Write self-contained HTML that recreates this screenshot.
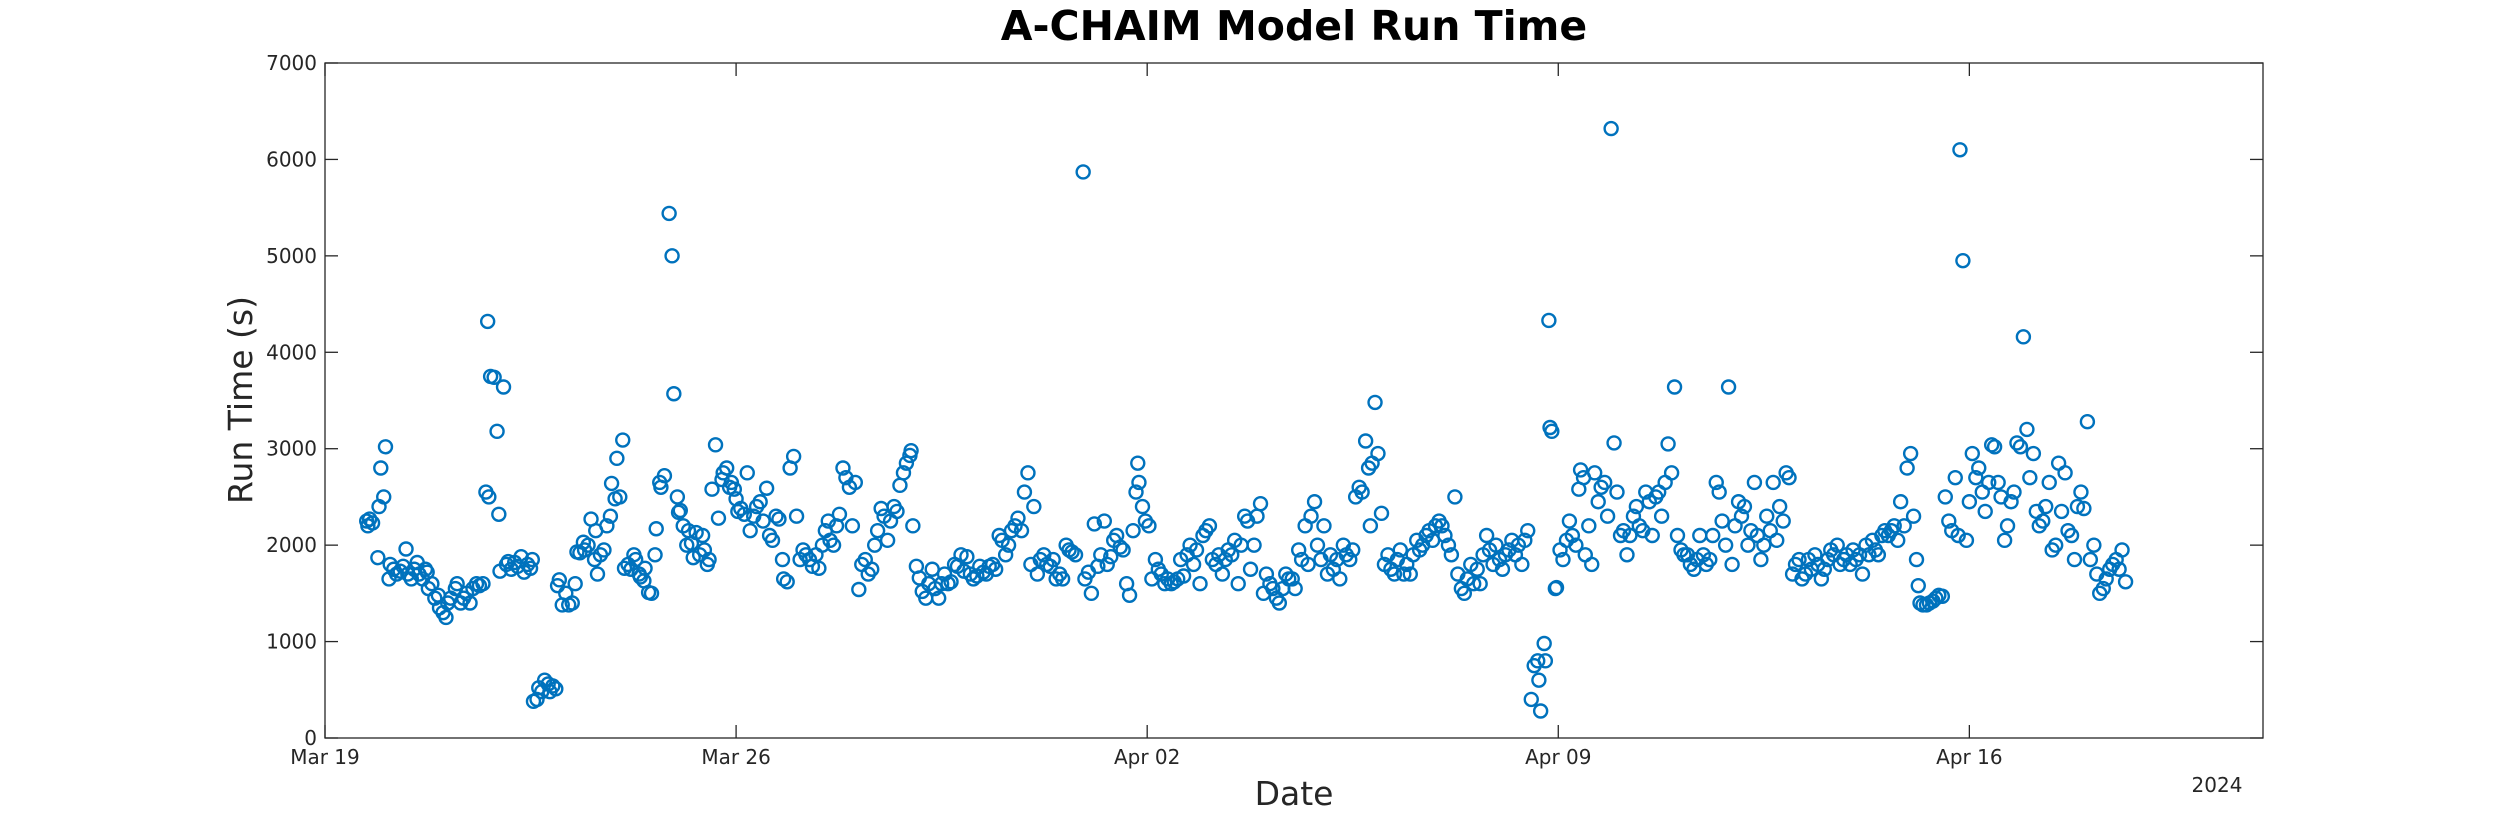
<!DOCTYPE html>
<html><head><meta charset="utf-8"><title>A-CHAIM Model Run Time</title>
<style>html,body{margin:0;padding:0;background:#fff;}svg{display:block;font-family:"Liberation Sans","DejaVu Sans",sans-serif;}</style>
</head><body>
<svg id="chart" width="2500" height="833" viewBox="0 0 2500 833" xmlns="http://www.w3.org/2000/svg">
<rect x="0" y="0" width="2500" height="833" fill="#fff"/>
<text x="1294" y="40" text-anchor="middle" font-size="41" font-weight="bold" fill="#000" font-family="DejaVu Sans, sans-serif">A-CHAIM Model Run Time</text>
<g id="axes"></g>
<g id="marks"></g>
<text transform="translate(252,400) rotate(-90)" text-anchor="middle" font-size="33" fill="#262626" font-family="DejaVu Sans, sans-serif">Run Time (s)</text>
<text x="1294" y="805" text-anchor="middle" font-size="33" fill="#262626" font-family="DejaVu Sans, sans-serif">Date</text>
<text x="2217" y="792" text-anchor="middle" font-size="20" fill="#262626" font-family="DejaVu Sans, sans-serif">2024</text>
</svg>
<script>
const yTicks = [0,1000,2000,3000,4000,5000,6000,7000];
const xTickDays = [0,7,14,21,28];
const xTickLabels = ["Mar 19","Mar 26","Apr 02","Apr 09","Apr 16"];
const days = [0.71,0.73,0.76,0.81,0.90,0.92,0.95,1.00,1.03,1.09,1.11,1.17,1.22,1.28,1.33,1.38,1.41,1.47,1.52,1.57,1.60,1.66,1.71,1.74,1.76,1.82,1.87,1.93,1.95,2.01,2.06,2.09,2.14,2.22,2.25,2.31,2.36,2.41,2.47,2.52,2.58,2.63,2.69,2.74,2.77,2.79,2.82,2.88,2.93,2.96,2.98,3.04,3.09,3.12,3.17,3.23,3.28,3.34,3.39,3.45,3.50,3.53,3.55,3.61,3.64,3.69,3.74,3.80,3.83,3.88,3.93,3.96,3.99,4.04,4.10,4.15,4.21,4.26,4.29,4.34,4.40,4.42,4.48,4.53,4.59,4.61,4.64,4.69,4.75,4.80,4.86,4.88,4.94,4.97,5.02,5.07,5.10,5.16,5.21,5.26,5.29,5.35,5.37,5.43,5.45,5.51,5.56,5.62,5.64,5.70,5.72,5.78,5.86,5.91,5.94,6.00,6.02,6.05,6.10,6.16,6.19,6.24,6.27,6.32,6.38,6.43,6.46,6.51,6.54,6.59,6.65,6.70,6.76,6.78,6.84,6.89,6.92,6.97,7.00,7.03,
7.08,7.14,7.19,7.24,7.30,7.35,7.41,7.46,7.52,7.57,7.62,7.68,7.73,7.79,7.81,7.87,7.92,7.98,8.03,8.09,8.14,8.19,8.25,8.30,8.36,8.41,8.47,8.52,8.57,8.60,8.66,8.71,8.76,8.82,8.87,8.93,8.98,9.03,9.09,9.14,9.20,9.25,9.31,9.36,9.41,9.47,9.52,9.58,9.63,9.69,9.74,9.79,9.85,9.90,9.96,9.98,10.01,10.07,10.12,10.17,10.23,10.28,10.34,10.39,10.45,10.50,10.55,10.61,10.66,10.72,10.77,10.83,10.88,10.93,10.99,11.04,11.10,11.15,11.21,11.26,11.31,11.37,11.42,11.48,11.53,11.59,11.64,11.69,11.75,11.80,11.86,11.91,11.97,12.02,12.07,12.13,12.18,12.24,12.29,12.35,12.40,12.45,12.51,12.56,12.62,12.67,12.72,12.78,12.91,12.94,13.00,13.05,13.10,13.16,13.21,13.27,13.32,13.38,13.43,13.48,13.54,13.59,13.65,13.70,13.76,13.81,13.84,13.86,13.92,13.97,
14.03,14.08,14.14,14.19,14.24,14.30,14.35,14.41,14.46,14.52,14.57,14.62,14.68,14.73,14.79,14.84,14.90,14.95,15.00,15.06,15.11,15.17,15.22,15.28,15.33,15.38,15.44,15.49,15.55,15.60,15.66,15.71,15.76,15.82,15.87,15.93,15.98,16.03,16.09,16.14,16.20,16.25,16.31,16.36,16.41,16.47,16.52,16.58,16.63,16.69,16.74,16.79,16.85,16.90,16.96,17.01,17.07,17.12,17.17,17.23,17.28,17.34,17.39,17.45,17.50,17.55,17.61,17.66,17.72,17.77,17.80,17.83,17.88,17.93,17.99,18.04,18.10,18.15,18.21,18.26,18.31,18.37,18.42,18.48,18.53,18.59,18.64,18.69,18.75,18.80,18.86,18.91,18.97,19.02,19.07,19.13,19.18,19.24,19.29,19.35,19.40,19.45,19.51,19.56,19.62,19.67,19.72,19.78,19.83,19.89,19.94,20.00,20.05,20.10,20.16,20.21,20.27,20.32,20.38,20.43,20.48,20.54,20.59,20.65,20.67,20.70,20.76,20.78,20.84,20.86,20.89,20.95,20.97,
21.03,21.08,21.14,21.19,21.24,21.30,21.35,21.38,21.43,21.46,21.52,21.57,21.62,21.68,21.73,21.79,21.84,21.90,21.95,22.00,22.06,22.11,22.17,22.22,22.28,22.33,22.38,22.44,22.49,22.55,22.60,22.66,22.71,22.76,22.82,22.87,22.93,22.98,23.03,23.09,23.14,23.20,23.25,23.31,23.36,23.41,23.47,23.52,23.58,23.63,23.69,23.74,23.79,23.85,23.90,23.96,24.01,24.07,24.12,24.17,24.23,24.28,24.34,24.39,24.45,24.50,24.55,24.61,24.66,24.72,24.77,24.83,24.88,24.93,24.99,25.04,25.10,25.15,25.21,25.26,25.31,25.37,25.42,25.48,25.53,25.59,25.64,25.69,25.75,25.80,25.86,25.91,25.97,26.02,26.07,26.13,26.18,26.24,26.29,26.35,26.40,26.45,26.51,26.56,26.62,26.67,26.72,26.78,26.83,26.89,26.94,27.00,27.05,27.10,27.13,27.16,27.21,27.27,27.32,27.38,27.43,27.48,27.54,27.59,27.65,27.70,27.76,27.81,27.84,27.89,
27.95,28.00,28.05,28.11,28.16,28.22,28.27,28.33,28.38,28.43,28.49,28.54,28.60,28.65,28.71,28.76,28.81,28.87,28.92,28.98,29.03,29.09,29.14,29.19,29.25,29.30,29.36,29.41,29.47,29.52,29.57,29.63,29.68,29.74,29.79,29.84,29.90,29.95,30.01,30.06,30.12,30.17,30.22,30.28,30.33,30.39,30.44,30.50,30.55,30.60,30.66];
const runTimes = [2250,2200,2270,2230,1870,2400,2800,2500,3020,1650,1800,1750,1700,1730,1780,1960,1700,1650,1750,1820,1700,1650,1750,1720,1550,1600,1450,1480,1350,1300,1250,1400,1450,1550,1600,1400,1450,1500,1400,1550,1600,1580,1600,2550,4320,2500,3750,3740,3180,2320,1730,3640,1800,1830,1750,1820,1780,1880,1720,1800,1760,1850,380,400,520,480,600,560,480,540,510,1580,1640,1380,1500,1380,1400,1600,1930,1920,2030,1950,2000,2270,1850,2150,1700,1900,1950,2200,2300,2640,2480,2900,2500,3090,1760,1800,1750,1900,1850,1700,1670,1630,1760,1510,1500,1900,2170,2650,2600,2720,5440,5000,3570,2500,2340,2360,2200,2000,2150,2020,1870,2130,1900,2100,1950,1800,1850,2580,3040,2280,2680,2750,2800,2600,2650,2580,2480,2350,
2380,2320,2750,2150,2300,2400,2450,2250,2590,2100,2050,2300,2270,1850,1650,1620,2800,2920,2300,1850,1950,1900,1850,1780,1900,1760,2000,2150,2250,2050,2000,2200,2320,2800,2700,2600,2200,2650,1540,1800,1850,1700,1750,2000,2150,2380,2300,2050,2250,2400,2350,2620,2750,2850,2930,2980,2200,1780,1660,1520,1450,1600,1750,1550,1450,1600,1700,1600,1620,1800,1780,1900,1730,1880,1700,1650,1680,1780,1720,1700,1780,1800,1750,2100,2050,1900,2000,2150,2200,2280,2150,2550,2750,1800,2400,1700,1850,1900,1800,1780,1850,1650,1700,1650,2000,1950,1930,1900,5870,1650,1720,1500,2220,1780,1900,2250,1800,1880,2050,2100,1980,1950,1600,1480,2150,2550,2850,2650,2400,2250,
2200,1650,1850,1750,1700,1600,1650,1600,1620,1650,1850,1680,1900,2000,1800,1950,1600,2100,2150,2200,1850,1800,1900,1700,1850,1950,1900,2050,1600,2000,2300,2250,1750,2000,2300,2430,1500,1700,1600,1550,1450,1400,1550,1700,1650,1650,1550,1950,1850,2200,1800,2300,2450,2000,1850,2200,1700,1900,1750,1850,1650,2000,1900,1850,1950,2500,2600,2550,3080,2800,2200,2850,3480,2950,2330,1800,1900,1750,1700,1850,1950,1700,1800,1700,1900,2050,1950,2000,2100,2150,2050,2200,2250,2200,2100,2000,1900,2500,1700,1550,1500,1650,1800,1600,1750,1600,1900,2100,1950,1800,2000,1850,1750,1900,1950,2050,1900,2000,1800,2050,2150,400,750,800,600,280,980,800,4330,3220,3180,1550,1560,
1950,1850,2050,2250,2100,2000,2580,2780,2700,1900,2200,1800,2750,2450,2600,2650,2300,6320,3060,2550,2100,2150,1900,2100,2300,2400,2200,2150,2550,2450,2100,2500,2550,2300,2650,3050,2750,3640,2100,1950,1900,1900,1800,1750,1850,2100,1900,1800,1850,2100,2650,2550,2250,2000,3640,1800,2200,2450,2300,2400,2000,2150,2650,2100,1850,2000,2300,2150,2650,2050,2400,2250,2750,2700,1700,1800,1850,1650,1700,1850,1750,1900,1800,1650,1750,1850,1950,1900,2000,1800,1850,1900,1800,1950,1850,1900,1700,2000,1900,2050,1950,1900,2100,2150,2100,2150,2200,2050,2450,2200,2800,2950,2300,1850,1580,1400,1380,1380,1400,1420,1450,1480,1470,2500,2250,2150,2700,2100,6100,4950,
2050,2450,2950,2700,2800,2550,2350,2650,3040,3020,2650,2500,2050,2200,2450,2550,3060,3020,4160,3200,2700,2950,2350,2200,2250,2400,2650,1950,2000,2850,2350,2750,2150,2100,1850,2400,2550,2380,3280,1850,2000,1700,1500,1550,1650,1750,1800,1850,1750,1950,1620];

const NS = "http://www.w3.org/2000/svg";
const L = 325, R = 2263, T = 63, B = 738;
const xMin = 0, xMax = 33, yMin = 0, yMax = 7000;
function xScale(d){ return L + (d - xMin) / (xMax - xMin) * (R - L); }
function yScale(v){ return B - (v - yMin) / (yMax - yMin) * (B - T); }
function mk(tag, attrs, parent){
  const el = document.createElementNS(NS, tag);
  for (const k in attrs) el.setAttribute(k, attrs[k]);
  parent.appendChild(el);
  return el;
}
const axes = document.getElementById('axes');
const marks = document.getElementById('marks');
const ac = "#262626";

const box = mk('rect', {x:L, y:T, width:R-L, height:B-T, fill:'none', stroke:ac, 'stroke-width':1.3}, axes);



yTicks.forEach(v => {
  const y = yScale(v);
  const t1 = mk('line', {x1:L, x2:L+13, y1:y, y2:y, stroke:ac, 'stroke-width':1.3}, axes);
  
  
  const t2 = mk('line', {x1:R-13, x2:R, y1:y, y2:y, stroke:ac, 'stroke-width':1.3}, axes);
  
  
  const lb = mk('text', {x:L-8, y:y+7, 'text-anchor':'end', 'font-size':20, fill:ac, 'font-family':'DejaVu Sans, sans-serif'}, axes);
  lb.textContent = String(v);
  
  
});

xTickDays.forEach((d, i) => {
  const x = xScale(d);
  const t1 = mk('line', {x1:x, x2:x, y1:B, y2:B-13, stroke:ac, 'stroke-width':1.3}, axes);
  
  
  const t2 = mk('line', {x1:x, x2:x, y1:T, y2:T+13, stroke:ac, 'stroke-width':1.3}, axes);
  
  
  const lb = mk('text', {x:x, y:B+26, 'text-anchor':'middle', 'font-size':20, fill:ac, 'font-family':'DejaVu Sans, sans-serif'}, axes);
  lb.textContent = xTickLabels[i];
  
  
});

const n = Math.min(days.length, runTimes.length);
for (let i = 0; i < n; i++) {
  const c = mk('circle', {cx:xScale(days[i]), cy:yScale(runTimes[i]), r:6.5, fill:'none', stroke:'#0072BD', 'stroke-width':2.4}, marks);
  
  
}
</script>
</body></html>
